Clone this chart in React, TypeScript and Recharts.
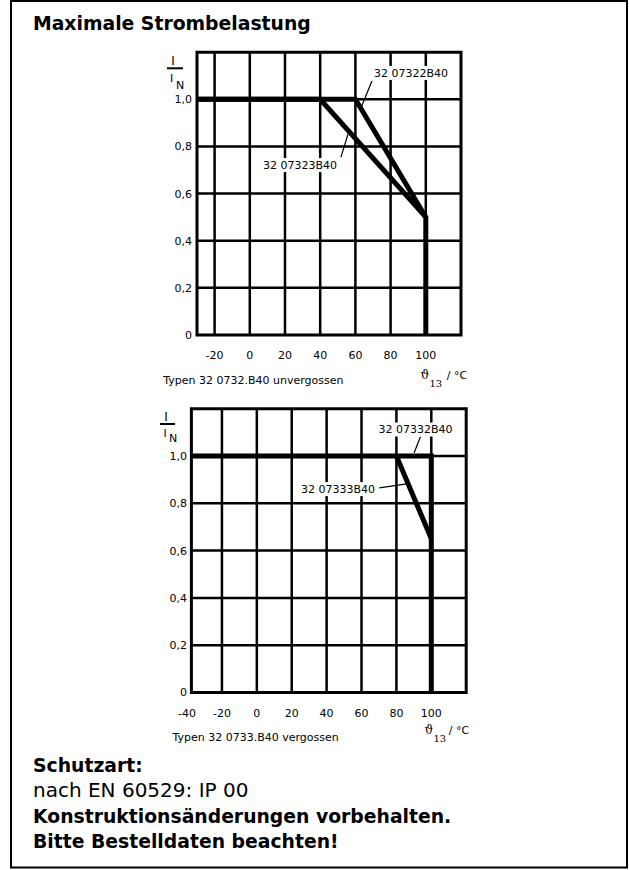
import { Line, LineChart, ReferenceArea, ReferenceDot, ReferenceLine, XAxis, YAxis } from "recharts";

const FONT = "DejaVu Sans";
const SERIF = "DejaVu Serif";

// Achsen (beide Diagramme)
const yDomain = [0, 1.2];
const yTicks = [0, 0.2, 0.4, 0.6, 0.8, 1.0];
const gridY = [0.2, 0.4, 0.6, 0.8, 1.0];

// oben: Typen 32 0732.B40 unvergossen
const topXDomain = [-30, 120];
const topXTicks = [-20, 0, 20, 40, 60, 80, 100];
const topGridX = [-20, 0, 20, 40, 60, 80, 100];
const s07322X = [-30, 60, 100, 100];
const s07322Y = [1, 1, 0.5, 0];
const s07323X = [-30, 40, 100];
const s07323Y = [1, 1, 0.5];

// unten: Typen 32 0733.B40 vergossen
const bottomXDomain = [-37.5, 120];
const bottomXTicks = [-40, -20, 0, 20, 40, 60, 80, 100];
const bottomGridX = [-20, 0, 20, 40, 60, 80, 100];
const s07332X = [-37.5, 100, 100];
const s07332Y = [1, 1, 0];
const s07333X = [80, 100];
const s07333Y = [1, 0.65];

// Beschriftungen: Text, Mitte, Hinweislinie von -> bis (Datenkoordinaten)
const topLabelText = ["32 07322B40", "32 07323B40"];
const topLabelAt = [[91.6, 1.112], [28.5, 0.721]];
const topLeaderFrom = [[69.4, 1.078], [51.8, 0.755]];
const topLeaderTo = [[63.2, 0.964], [55.8, 0.853]];

const bottomLabelText = ["32 07332B40", "32 07333B40"];
const bottomLabelAt = [[91.0, 1.112], [46.5, 0.86]];
const bottomLeaderFrom = [[93.8, 1.081], [70.2, 0.865]];
const bottomLeaderTo = [[90.1, 1.013], [85.9, 0.882]];

const toPoints = (xs: number[], ys: number[]) => xs.map((x, i) => ({ x, y: ys[i] }));

const fmtY = (v: number) => (v === 0 ? "0" : v.toFixed(1).replace(".", ","));

const tickStyle = { fill: "#000", fontSize: 11, fontFamily: FONT };

function LabelBox({ cx, cy, text }: { cx?: number; cy?: number; text: string }) {
  if (cx == null || cy == null) return null;
  const w = 78;
  return (
    <g>
      <rect fill="#fff" height={14} width={w} x={cx - w / 2} y={cy - 7} />
      <text dy="0.36em" fill="#000" fontFamily={FONT} fontSize={11} textAnchor="middle" x={cx} y={cy}>
        {text}
      </text>
    </g>
  );
}

interface DeratingProps {
  height: number;
  margin: { top: number; right: number; bottom: number; left: number };
  yAxisWidth: number;
  xDomain: number[];
  xTicks: number[];
  gridX: number[];
  series: { x: number; y: number }[][];
  labelText: string[];
  labelAt: number[][];
  leaderFrom: number[][];
  leaderTo: number[][];
  xTickMargin: number;
  yTickMargin: number;
}

function Derating({
  height,
  margin,
  yAxisWidth,
  xDomain,
  xTicks,
  gridX,
  series,
  labelText,
  labelAt,
  leaderFrom,
  leaderTo,
  xTickMargin,
  yTickMargin,
}: DeratingProps) {
  return (
    <LineChart height={height} margin={margin} width={629}>
      <XAxis
        allowDataOverflow
        axisLine={false}
        dataKey="x"
        domain={xDomain}
        height={30}
        interval={0}
        tick={tickStyle}
        tickLine={false}
        tickMargin={xTickMargin}
        tickSize={0}
        ticks={xTicks}
        type="number"
      />
      <YAxis
        axisLine={false}
        dataKey="y"
        domain={yDomain}
        interval={0}
        tick={tickStyle}
        tickFormatter={fmtY}
        tickLine={false}
        tickMargin={yTickMargin}
        tickSize={0}
        ticks={yTicks}
        type="number"
        width={yAxisWidth}
      />
      {gridX.map((x) => (
        <ReferenceLine key={"gx" + x} stroke="#000" strokeWidth={2.5} x={x} />
      ))}
      {gridY.map((y) => (
        <ReferenceLine key={"gy" + y} stroke="#000" strokeWidth={2.5} y={y} />
      ))}
      {series.map((s, i) => (
        <Line
          activeDot={false}
          data={s}
          dataKey="y"
          dot={false}
          isAnimationActive={false}
          key={"s" + i}
          stroke="#000"
          strokeLinecap="butt"
          strokeLinejoin="miter"
          strokeWidth={5}
          type="linear"
        />
      ))}
      <ReferenceArea
        fill="none"
        fillOpacity={0}
        stroke="#000"
        strokeWidth={3}
        x1={xDomain[0]}
        x2={xDomain[1]}
        y1={yDomain[0]}
        y2={yDomain[1]}
      />
      {labelText.map((t, i) => (
        <ReferenceLine
          ifOverflow="visible"
          key={"ld" + i}
          segment={[
            { x: leaderFrom[i][0], y: leaderFrom[i][1] },
            { x: leaderTo[i][0], y: leaderTo[i][1] },
          ]}
          stroke="#000"
          strokeWidth={1.2}
        />
      ))}
      {labelText.map((t, i) => (
        <ReferenceDot
          ifOverflow="visible"
          key={"lb" + i}
          r={0}
          shape={(p: any) => <LabelBox cx={p.cx} cy={p.cy} text={t} />}
          x={labelAt[i][0]}
          y={labelAt[i][1]}
        />
      ))}
    </LineChart>
  );
}

export default function App() {
  return (
    <div style={{ position: "absolute", left: 0, top: 0, width: 629, height: 870, background: "#fff" }}>
      <svg height={870} style={{ position: "absolute", left: 0, top: 0 }} width={629}>
        <rect fill="none" height={866.5} stroke="#000" strokeWidth={2} width={616} x={11} y={1} />
        <text fontFamily={FONT} fontSize={18.8} fontWeight="bold" x={33} y={30}>
          Maximale Strombelastung
        </text>

        {/* oberes Diagramm */}
        <text fontFamily={FONT} fontSize={12} textAnchor="middle" x={173} y={65}>I</text>
        <line stroke="#000" strokeWidth={2} x1={167} x2={183} y1={68.3} y2={68.3} />
        <text fontFamily={FONT} fontSize={11} textAnchor="middle" x={171.5} y={82}>I</text>
        <text fontFamily={FONT} fontSize={11} x={176} y={88.5}>N</text>
        <text fontFamily={SERIF} fontSize={12} x={420.5} y={378.5}>ϑ</text>
        <text fontFamily={SERIF} fontSize={10} x={429.5} y={387}>13</text>
        <text fontFamily={FONT} fontSize={11} x={446.7} y={379}>/ °C</text>
        <text fontFamily={FONT} fontSize={11} x={163.2} y={384}>Typen 32 0732.B40 unvergossen</text>

        {/* unteres Diagramm */}
        <text fontFamily={FONT} fontSize={12} textAnchor="middle" x={166} y={421}>I</text>
        <line stroke="#000" strokeWidth={2} x1={160} x2={175} y1={424} y2={424} />
        <text fontFamily={FONT} fontSize={11} textAnchor="middle" x={165} y={436.5}>I</text>
        <text fontFamily={FONT} fontSize={11} x={169} y={442}>N</text>
        <text fontFamily={SERIF} fontSize={12} x={424.5} y={733.5}>ϑ</text>
        <text fontFamily={SERIF} fontSize={10} x={433.5} y={742}>13</text>
        <text fontFamily={FONT} fontSize={11} x={448.7} y={734}>/ °C</text>
        <text fontFamily={FONT} fontSize={11} x={172.5} y={741}>Typen 32 0733.B40 vergossen</text>

        <text fontFamily={FONT} fontSize={18.8} fontWeight="bold" x={33} y={772}>Schutzart:</text>
        <text fontFamily={FONT} fontSize={20} x={33} y={797}>nach EN 60529: IP 00</text>
        <text fontFamily={FONT} fontSize={18.8} fontWeight="bold" x={33} y={823}>
          Konstruktionsänderungen vorbehalten.
        </text>
        <text fontFamily={FONT} fontSize={18.8} fontWeight="bold" x={33} y={848}>
          Bitte Bestelldaten beachten!
        </text>
      </svg>

      <div style={{ position: "absolute", left: 0, top: 0 }}>
        <Derating
          gridX={topGridX}
          height={400}
          labelAt={topLabelAt}
          labelText={topLabelText}
          leaderFrom={topLeaderFrom}
          leaderTo={topLeaderTo}
          margin={{ top: 52.2, right: 168, bottom: 35, left: 0 }}
          series={[toPoints(s07323X, s07323Y), toPoints(s07322X, s07322Y)]}
          xDomain={topXDomain}
          xTickMargin={16}
          xTicks={topXTicks}
          yAxisWidth={197}
          yTickMargin={5}
        />
      </div>

      <div style={{ position: "absolute", left: 0, top: 380 }}>
        <Derating
          gridX={bottomGridX}
          height={360}
          labelAt={bottomLabelAt}
          labelText={bottomLabelText}
          leaderFrom={bottomLeaderFrom}
          leaderTo={bottomLeaderTo}
          margin={{ top: 28.7, right: 162.8, bottom: 17.5, left: 0 }}
          series={[toPoints(s07332X, s07332Y), toPoints(s07333X, s07333Y)]}
          xDomain={bottomXDomain}
          xTickMargin={16.5}
          xTicks={bottomXTicks}
          yAxisWidth={191.4}
          yTickMargin={4.5}
        />
      </div>
    </div>
  );
}
